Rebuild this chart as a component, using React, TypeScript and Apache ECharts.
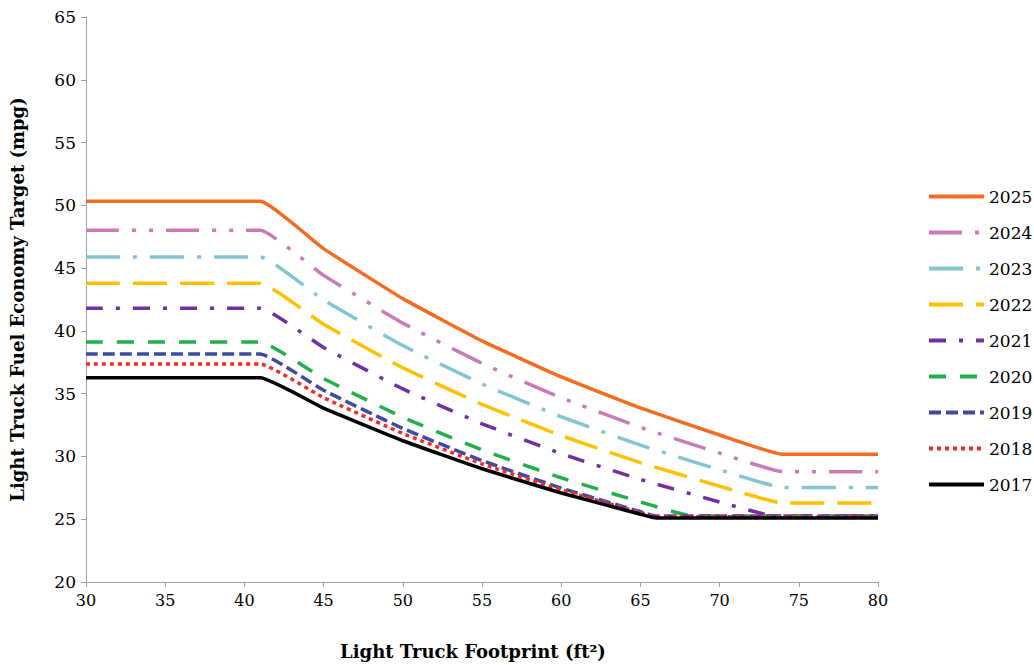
import React, { useEffect, useRef } from "react";
import * as echarts from "echarts";

const footprints2017 = [30, 41, 45, 50, 55, 60, 65, 66, 70, 80];
const footprints2020 = [30, 41, 45, 50, 55, 60, 65, 68.3, 70, 80];
const footprints2021 = [30, 41, 45, 50, 55, 60, 65, 70, 73.5, 80];
const footprintsLate = [30, 41, 45, 50, 55, 60, 65, 70, 74, 80];

const mpg2017 = [36.26, 36.26, 33.85, 31.25, 29.02, 27.09, 25.4, 25.09, 25.09, 25.09];
const mpg2018 = [37.36, 37.36, 34.68, 31.83, 29.41, 27.34, 25.53, 25.2, 25.2, 25.2];
const mpg2019 = [38.16, 38.16, 35.27, 32.23, 29.67, 27.48, 25.6, 25.25, 25.25, 25.25];
const mpg2020 = [39.11, 39.11, 36.2, 33.12, 30.52, 28.3, 26.38, 25.25, 25.25, 25.25];
const mpg2021 = [41.8, 41.8, 38.68, 35.38, 32.6, 30.22, 28.17, 26.37, 25.25, 25.25];
const mpg2022 = [43.79, 43.79, 40.52, 37.06, 34.15, 31.66, 29.51, 27.63, 26.29, 26.29];
const mpg2023 = [45.89, 45.89, 42.46, 38.83, 35.77, 33.16, 30.9, 28.93, 27.53, 27.53];
const mpg2024 = [48.01, 48.01, 44.42, 40.62, 37.41, 34.68, 32.32, 30.26, 28.79, 28.79];
const mpg2025 = [50.32, 50.32, 46.55, 42.57, 39.21, 36.34, 33.87, 31.71, 30.17, 30.17];

const yTicks = [20, 25, 30, 35, 40, 45, 50, 55, 60, 65];
const xTicks = [30, 35, 40, 45, 50, 55, 60, 65, 70, 75, 80];

const seriesDefs: { name: string; xs: number[]; ys: number[]; color: string; dash: any }[] = [
  { name: "2025", xs: footprintsLate, ys: mpg2025, color: "#F36C21", dash: "solid" },
  { name: "2024", xs: footprintsLate, ys: mpg2024, color: "#C97BB8", dash: [33, 13, 4, 13, 4, 13] },
  { name: "2023", xs: footprintsLate, ys: mpg2023, color: "#84C4D2", dash: [34, 13, 4, 13] },
  { name: "2022", xs: footprintsLate, ys: mpg2022, color: "#FFC000", dash: [34, 13] },
  { name: "2021", xs: footprints2021, ys: mpg2021, color: "#7030A0", dash: [17, 13, 4, 13] },
  { name: "2020", xs: footprints2020, ys: mpg2020, color: "#22AE4B", dash: [17, 14] },
  { name: "2019", xs: footprints2017, ys: mpg2019, color: "#3D4BA1", dash: [12, 5] },
  { name: "2018", xs: footprints2017, ys: mpg2018, color: "#F42A2A", dash: [4, 4] },
  { name: "2017", xs: footprints2017, ys: mpg2017, color: "#000000", dash: "solid" },
];

const FONT = "DejaVu Serif";

export default function App() {
  const ref = useRef<HTMLDivElement>(null);
  useEffect(() => {
    if (!ref.current) return;
    const chart = echarts.init(ref.current, undefined, { renderer: "svg" });
    chart.setOption({
      animation: false,
      backgroundColor: "#ffffff",
      textStyle: { fontFamily: FONT },
      grid: { left: 86, right: 156, top: 17, bottom: 79, containLabel: false },
      legend: {
        orient: "vertical",
        left: 922,
        top: 183,
        itemWidth: 55,
        itemHeight: 14,
        itemGap: 19,
        itemStyle: { color: "rgba(0,0,0,0)", borderWidth: 0, opacity: 0 },
        lineStyle: { width: 4 },
        formatter: "{a|{name}}",
        textStyle: {
          fontFamily: FONT,
          fontSize: 17,
          color: "#000",
          rich: { a: { fontFamily: FONT, fontSize: 17, color: "#000" } },
        },
        data: seriesDefs.map((s) => s.name),
      },
      xAxis: {
        type: "value",
        min: xTicks[0],
        max: xTicks[xTicks.length - 1],
        interval: 5,
        name: "Light Truck Footprint (ft²)",
        nameLocation: "middle",
        nameGap: 60,
        nameTextStyle: { fontFamily: FONT, fontSize: 18, fontWeight: "bold", color: "#000", padding: [0, 18, 0, 0] },
        axisLine: { onZero: false, lineStyle: { color: "#A0A0A0", width: 1 } },
        axisTick: { show: true, length: 5, lineStyle: { color: "#A0A0A0" } },
        axisLabel: { fontFamily: FONT, fontSize: 16, color: "#000", margin: 10 },
        splitLine: { show: false },
      },
      yAxis: {
        type: "value",
        min: yTicks[0],
        max: yTicks[yTicks.length - 1],
        interval: 5,
        name: "Light Truck Fuel Economy Target (mpg)",
        nameLocation: "middle",
        nameGap: 60,
        nameTextStyle: { fontFamily: FONT, fontSize: 18, fontWeight: "bold", color: "#000" },
        axisLine: { show: true, lineStyle: { color: "#A0A0A0", width: 1 } },
        axisTick: { show: true, length: 5, lineStyle: { color: "#A0A0A0" } },
        axisLabel: { fontFamily: FONT, fontSize: 17, color: "#000", margin: 10 },
        splitLine: { show: false },
      },
      series: seriesDefs.map((s) => ({
        name: s.name,
        type: "line",
        data: s.xs.map((x, i) => [x, s.ys[i]]),
        showSymbol: false,
        symbol: "none",
        smooth: 0.12,
        color: s.color,
        lineStyle: { color: s.color, width: 3.5, type: s.dash, cap: "butt" },
      })),
    });
    return () => chart.dispose();
  }, []);
  return (
    <div
      ref={ref}
      style={{ position: "fixed", left: 0, top: 0, width: 1034, height: 665, background: "#fff" }}
    />
  );
}
